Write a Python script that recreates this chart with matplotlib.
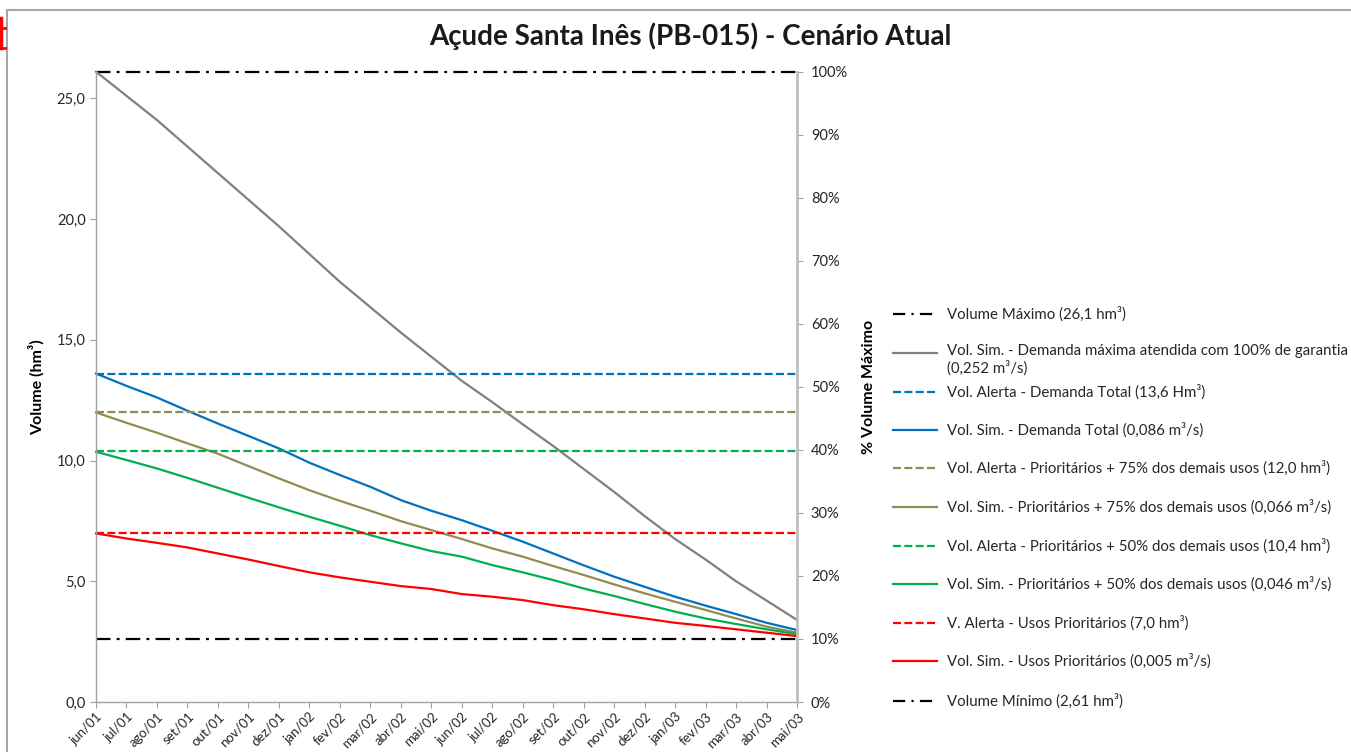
import matplotlib
matplotlib.use("Agg")
import matplotlib.pyplot as plt
from matplotlib.lines import Line2D
from matplotlib.patches import Rectangle
import matplotlib.ticker as mticker

plt.rcParams['font.family'] = ['Lato', 'DejaVu Sans']

months = ["jun/01", "jul/01", "ago/01", "set/01", "out/01", "nov/01", "dez/01",
          "jan/02", "fev/02", "mar/02", "abr/02", "mai/02", "jun/02", "jul/02",
          "ago/02", "set/02", "out/02", "nov/02", "dez/02", "jan/03", "fev/03",
          "mar/03", "abr/03", "mai/03"]

vol_max = 26.1
vol_min = 2.61
alerta_total = 13.6
alerta_75 = 12.0
alerta_50 = 10.4
alerta_prior = 7.0

sim_max = [26.1, 25.1, 24.1, 23.0, 21.9, 20.8, 19.7, 18.55, 17.4, 16.35, 15.3, 14.3,
           13.3, 12.42, 11.5, 10.6, 9.65, 8.7, 7.7, 6.75, 5.9, 5.0, 4.2, 3.4]
sim_total = [13.6, 13.09, 12.61, 12.06, 11.53, 11.02, 10.50, 9.91, 9.40, 8.91, 8.36, 7.92,
             7.53, 7.09, 6.64, 6.15, 5.66, 5.19, 4.77, 4.36, 3.99, 3.64, 3.28, 2.98]
sim_75 = [11.99, 11.56, 11.15, 10.71, 10.28, 9.77, 9.26, 8.77, 8.33, 7.92, 7.49, 7.12,
          6.75, 6.36, 6.02, 5.63, 5.26, 4.87, 4.50, 4.15, 3.81, 3.46, 3.12, 2.87]
sim_50 = [10.36, 10.02, 9.67, 9.28, 8.87, 8.46, 8.06, 7.67, 7.30, 6.91, 6.57, 6.25,
          6.02, 5.67, 5.37, 5.05, 4.70, 4.39, 4.06, 3.74, 3.46, 3.23, 3.01, 2.81]
sim_prior = [6.98, 6.77, 6.59, 6.40, 6.15, 5.90, 5.63, 5.37, 5.16, 4.98, 4.80, 4.68,
             4.47, 4.36, 4.22, 4.01, 3.84, 3.64, 3.46, 3.28, 3.15, 3.01, 2.87, 2.73]

labels = [
    "Volume Máximo (26,1 hm³)",
    "Vol. Sim. - Demanda máxima atendida com 100% de garantia\n(0,252 m³/s)",
    "Vol. Alerta - Demanda Total (13,6 Hm³)",
    "Vol. Sim. - Demanda Total (0,086 m³/s)",
    "Vol. Alerta - Prioritários + 75% dos demais usos (12,0 hm³)",
    "Vol. Sim. - Prioritários + 75% dos demais usos (0,066 m³/s)",
    "Vol. Alerta - Prioritários + 50% dos demais usos (10,4 hm³)",
    "Vol. Sim. - Prioritários + 50% dos demais usos (0,046 m³/s)",
    "V. Alerta - Usos Prioritários (7,0 hm³)",
    "Vol. Sim. - Usos Prioritários (0,005 m³/s)",
    "Volume Mínimo (2,61 hm³)",
]

W, H = 1351, 752
fig = plt.figure(figsize=(W / 100, H / 100), dpi=100)
ax = fig.add_axes([96 / W, 1 - 702 / H, (797 - 96) / W, (702 - 71.7) / H])

x = list(range(len(months)))
n = len(months)
lw = 1.6
dashdot = (0, (6.5, 2.8, 1.3, 2.8))
dashed = (0, (3.6, 1.5))
leg_dashdot = (0, (5.5, 2.8, 1.0, 2.8))

gray = "#808080"
blue = "#0070C0"
olive = "#948A54"
green = "#00B050"
red = "#FF0000"
txt = "#262626"

series = [
    ([vol_max] * n, "black", dashdot),
    (sim_max, gray, "-"),
    ([alerta_total] * n, blue, dashed),
    (sim_total, blue, "-"),
    ([alerta_75] * n, olive, dashed),
    (sim_75, olive, "-"),
    ([alerta_50] * n, green, dashed),
    (sim_50, green, "-"),
    ([alerta_prior] * n, red, dashed),
    (sim_prior, red, "-"),
    ([vol_min] * n, "black", dashdot),
]

for vals, c, ls in series:
    ax.plot(x, vals, color=c, linestyle=ls, linewidth=lw, clip_on=False)

ax.set_xlim(0, n - 1)
ax.set_ylim(0, vol_max)
ax.set_yticks([0, 5, 10, 15, 20, 25])
ax.yaxis.set_major_formatter(mticker.FuncFormatter(lambda v, p: f"{v:.1f}".replace(".", ",")))
ax.set_xticks(x)
ax.set_xticklabels(months, rotation=45, ha="right", rotation_mode="anchor", fontsize=9.5, color=txt)
ax.tick_params(axis="y", labelsize=10.5, colors=txt, length=4, color="#A0A0A0")
ax.tick_params(axis="x", length=4, color="#A0A0A0", pad=2)
for s in ["top", "right"]:
    ax.spines[s].set_visible(False)
for s in ["left", "bottom"]:
    ax.spines[s].set_color("#A0A0A0")
    ax.spines[s].set_linewidth(1.0)
ax.set_ylabel("Volume (hm³)", fontsize=11.5, fontweight="bold", labelpad=9)

ax2 = ax.twinx()
ax2.set_ylim(0, 1)
ax2.set_yticks([i / 10 for i in range(11)])
ax2.yaxis.set_major_formatter(mticker.FuncFormatter(lambda v, p: f"{v * 100:.0f}%"))
ax2.tick_params(axis="y", labelsize=10.5, colors=txt, length=4, color="#A0A0A0", pad=6)
for s in ["top", "left", "bottom"]:
    ax2.spines[s].set_visible(False)
ax2.spines["right"].set_color("#BFBFBF")
ax2.spines["right"].set_linewidth(2.0)
ax2.set_ylabel("% Volume Máximo", fontsize=11.5, fontweight="bold", labelpad=10)

fig.text(690 / W, 1 - 36 / H, "Açude Santa Inês (PB-015) - Cenário Atual",
         ha="center", va="center", fontsize=20, fontweight="bold", color="#1a1a1a")

# Manual legend
leg_y = [314, 353, 392, 430, 468, 507, 546, 584, 623, 661, 701]
for (vals, c, ls), lab, yy in zip(series, labels, leg_y):
    fy = 1 - yy / H
    hls = leg_dashdot if ls == dashdot else ls
    fig.add_artist(Line2D([893 / W, 937 / W], [fy, fy], color=c, linestyle=hls, linewidth=lw))
    if "\n" in lab:
        fig.text(947 / W, fy + 9 / H, lab, ha="left", va="top", fontsize=10.8,
                 color=txt, linespacing=1.2)
    else:
        fig.text(947 / W, fy, lab, ha="left", va="center", fontsize=10.8, color=txt)

# chart area border
fig.add_artist(Rectangle((7 / W, -0.05), 1.1, 1 - 10 / H + 0.05, transform=fig.transFigure,
                         fill=False, edgecolor="#A6A6A6", linewidth=1.5))
fig.add_artist(Line2D([1 / W, 1 / W], [1 - 18 / H, 1 - 48 / H], color=red, linewidth=2.5))
fig.add_artist(Line2D([0, 5 / W], [1 - 28 / H, 1 - 28 / H], color=red, linewidth=2))
fig.add_artist(Line2D([0, 5 / W], [1 - 48 / H, 1 - 48 / H], color=red, linewidth=2))

fig.savefig("out.png", dpi=100)
